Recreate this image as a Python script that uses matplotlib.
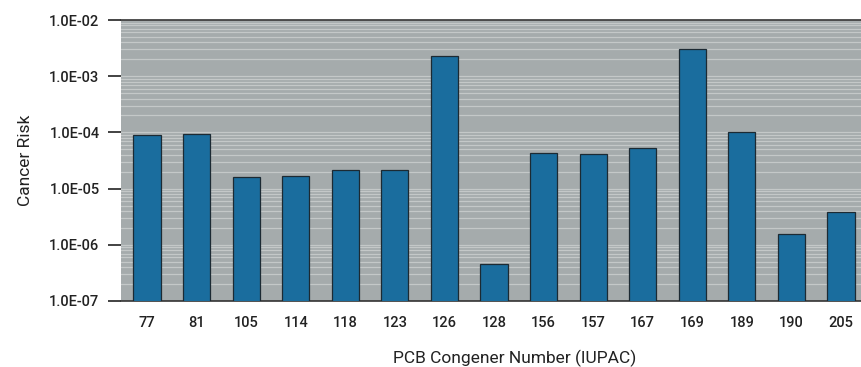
import matplotlib.pyplot as plt
import numpy as np
from matplotlib.ticker import FixedLocator, FixedFormatter, LogLocator, NullFormatter

congeners = ['77', '81', '105', '114', '118', '123', '126', '128',
             '156', '157', '167', '169', '189', '190', '205']
risk = [9.1e-5, 9.5e-5, 1.63e-5, 1.67e-5, 2.13e-5, 2.1e-5, 2.3e-3, 4.5e-7,
        4.25e-5, 4.2e-5, 5.2e-5, 3.06e-3, 1.02e-4, 1.54e-6, 3.9e-6]
yticks = [1e-7, 1e-6, 1e-5, 1e-4, 1e-3, 1e-2]
ytick_labels = ['1.0E-07', '1.0E-06', '1.0E-05', '1.0E-04', '1.0E-03', '1.0E-02']

plt.rcParams['font.family'] = ['Roboto', 'DejaVu Sans']
plt.rcParams['font.weight'] = 'medium'

fig = plt.figure(figsize=(8.61, 3.67), dpi=100)
# axes runs past the right edge of the picture, like the cropped original
ax = fig.add_axes([121/861, 66/367, 746/861, 281/367])
ax.set_facecolor('#a5abac')

x = np.arange(len(congeners))
ax.bar(x, risk, width=0.55, color='#1a6d9e', edgecolor='#1c2a33', linewidth=0.9,
       zorder=3)

ax.set_yscale('log')
ax.set_ylim(1e-7, 1e-2)
ax.set_xlim(-0.525, len(congeners) - 0.475)

ax.yaxis.set_major_locator(FixedLocator(yticks))
ax.yaxis.set_major_formatter(FixedFormatter(ytick_labels))
ax.yaxis.set_minor_locator(LogLocator(base=10, subs=np.arange(2, 10)))
ax.yaxis.set_minor_formatter(NullFormatter())
ax.grid(which='both', axis='y', color='white', alpha=0.35, linewidth=0.9, zorder=1)
ax.set_axisbelow(True)

ax.set_xticks(x)
ax.set_xticklabels(congeners)
ax.tick_params(axis='x', length=0, pad=11, labelsize=10.5, colors='#222222')
ax.tick_params(axis='y', which='major', direction='out', length=9.5, width=1.2,
               pad=6, labelsize=10.5, colors='#222222')
ax.tick_params(axis='y', which='minor', length=0)

for side in ['right', 'left']:
    ax.spines[side].set_visible(False)
for side in ['top', 'bottom']:
    ax.spines[side].set_color('#333333')
    ax.spines[side].set_linewidth(1.2)

ax.set_xlabel('PCB Congener Number (IUPAC)', fontsize=12.5, color='#222222')
ax.xaxis.set_label_coords((515 - 121) / 746, -0.175)
ax.set_ylabel('Cancer Risk', fontsize=12.5, color='#222222')
ax.yaxis.set_label_coords(-0.118, 0.5)

fig.savefig('out.png', dpi=100)
